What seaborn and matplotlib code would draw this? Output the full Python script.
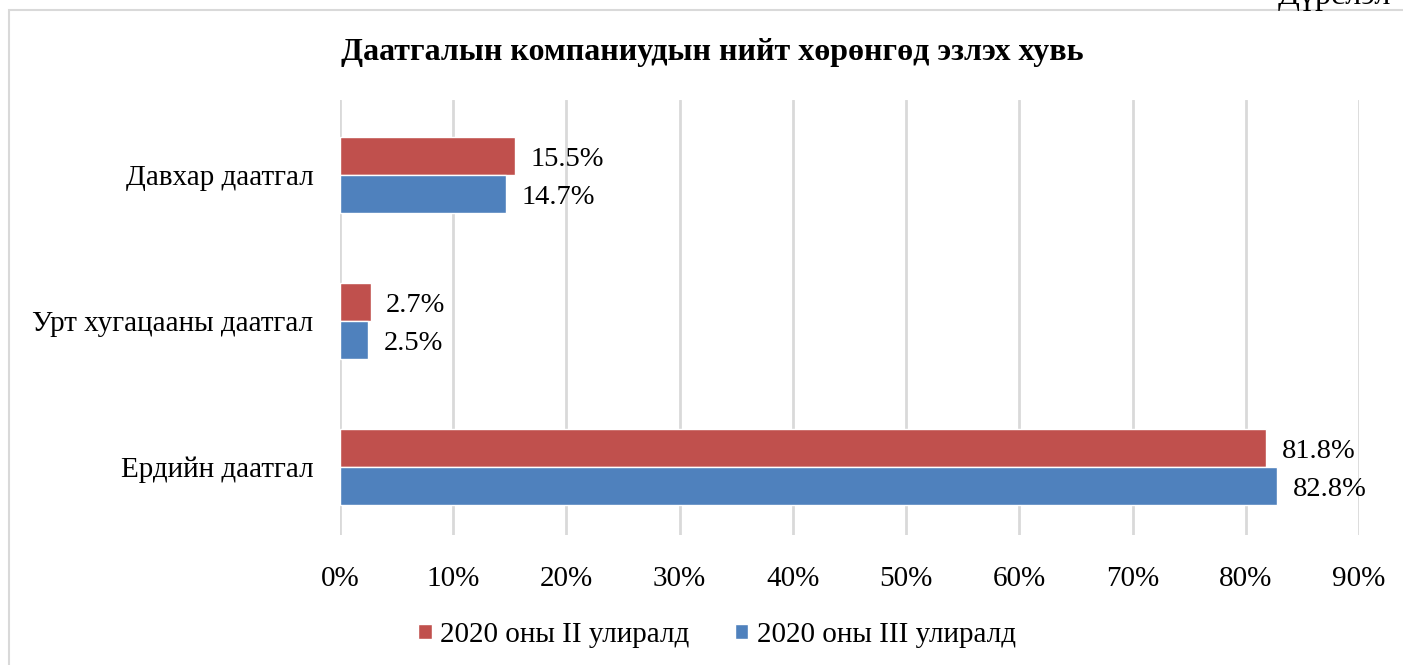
import matplotlib
matplotlib.use("Agg")
import matplotlib.pyplot as plt
import seaborn as sns
import pandas as pd
from matplotlib.patches import Rectangle

categories = ["Давхар даатгал", "Урт хугацааны даатгал", "Ердийн даатгал"]
series_names = ["2020 оны II улиралд", "2020 оны III улиралд"]
q2_values = [15.5, 2.7, 81.8]
q3_values = [14.7, 2.5, 82.8]
x_ticks = [0, 10, 20, 30, 40, 50, 60, 70, 80, 90]
title = "Даатгалын компаниудын нийт хөрөнгөд эзлэх хувь"
corner_text = "Дүрслэл"

colors = ["#C0504D", "#4F81BD"]

df = pd.DataFrame({
    "category": categories * 2,
    "series": [series_names[0]] * 3 + [series_names[1]] * 3,
    "value": q2_values + q3_values,
})

sns.set_theme(style="white")
plt.rcParams["font.family"] = ["Liberation Serif", "DejaVu Serif"]
plt.rcParams["text.color"] = "black"
plt.rcParams["xtick.color"] = "black"
plt.rcParams["ytick.color"] = "black"

W, H = 1403, 665
fig = plt.figure(figsize=(W / 100, H / 100), dpi=100)
ax = fig.add_axes([340 / W, 1 - 535 / H, (1359 - 340) / W, (535 - 100) / H])

sns.barplot(data=df, y="category", x="value", hue="series", order=categories,
            hue_order=series_names, palette=colors, orient="h", width=0.52,
            saturation=1, ax=ax, legend=False)

ax.set_xlim(0, 90)
ax.set_ylim(2.466, -0.514)
ax.set_xticks(x_ticks)
ax.set_xticklabels([f"{t}%" for t in x_ticks], fontsize=21)
ax.tick_params(axis="y", labelsize=21, pad=19, length=0)
ax.tick_params(axis="x", pad=22, length=0)
ax.set_xlabel("")
ax.set_ylabel("")
ax.grid(axis="x", color="#D9D9D9", linewidth=2)
ax.set_axisbelow(True)
for s in ax.spines.values():
    s.set_visible(False)

for cont in ax.containers:
    labels = [f"{v:.1f}%" for v in cont.datavalues]
    texts = ax.bar_label(cont, labels=labels, padding=11, fontsize=20.5)
    for t in texts:
        dx, dy = t.xyann
        t.xyann = (dx, dy - 2.3)

fig.text(712 / W, 1 - 60 / H, title, ha="center", va="baseline",
         fontsize=23, fontweight="bold")

fig.text(1278 / W, 1 - 4 / H, corner_text, ha="left", va="baseline", fontsize=23)

fig.patches.append(Rectangle((9 / W, -0.1), 1.2, 1 - 10 / H + 0.1,
                             transform=fig.transFigure, fill=False,
                             edgecolor="#D9D9D9", linewidth=1.5, clip_on=False))

handles = [Rectangle((0, 0), 1, 1, facecolor=c) for c in colors]
fig.legend(handles, series_names, loc="center", bbox_to_anchor=(717 / W, 1 - 635 / H),
           ncol=2, frameon=False, fontsize=21, handlelength=0.45, handleheight=0.45,
           handletextpad=0.3, columnspacing=1.55)

fig.savefig("out.png", dpi=100)
